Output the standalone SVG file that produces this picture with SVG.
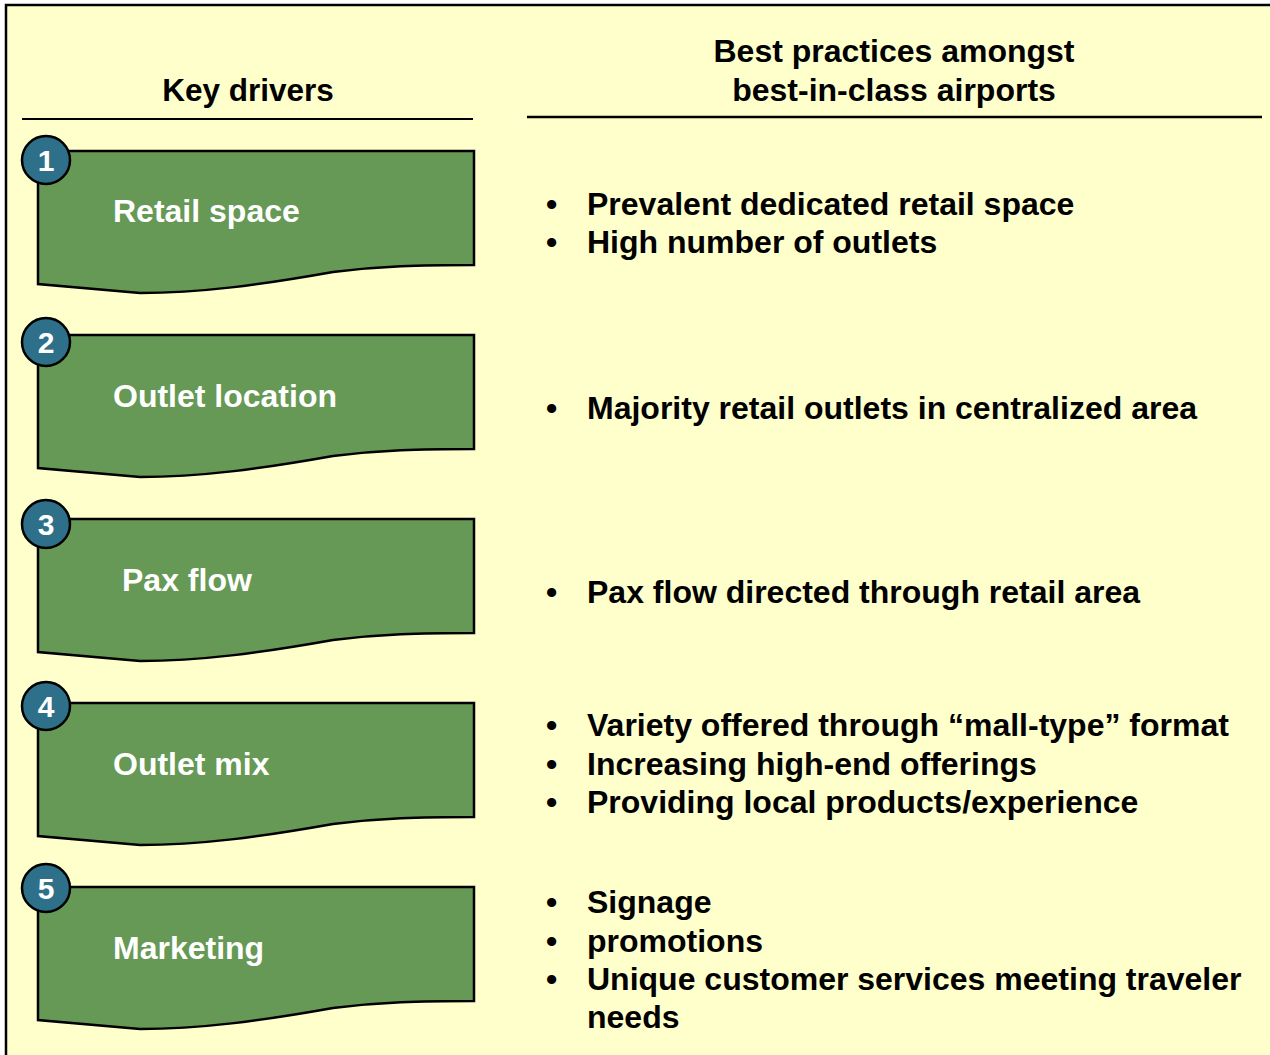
<svg xmlns="http://www.w3.org/2000/svg" width="1270" height="1055" viewBox="0 0 1270 1055">
  <defs>
    <style>
      .frame { fill: #FFFFCC; stroke: #000; stroke-width: 2.5; }
      .rule { stroke: #000; fill: none; }
      .card { fill: #669955; stroke: #000; stroke-width: 2.5; stroke-linejoin: miter; }
      .badge { fill: #2E7089; stroke: #000; stroke-width: 2.5; }
      .num { font-family: "Liberation Sans", Arial, sans-serif; font-weight: bold; font-size: 30px; fill: #fff; text-anchor: middle; }
      .label { font-family: "Liberation Sans", Arial, sans-serif; font-weight: bold; font-size: 32px; fill: #fff; }
      .head { font-family: "Liberation Sans", Arial, sans-serif; font-weight: bold; font-size: 32px; fill: #000; text-anchor: middle; }
      .item { font-family: "Liberation Sans", Arial, sans-serif; font-weight: bold; font-size: 32px; fill: #000; }
    </style>
    <!-- wavy "document" card shape, origin at its top-left corner -->
    <path id="card-shape" d="M0,0 L436,0 L436,114 C382,114 342,115 295,121 C222,134 162,142 102,142 L0,133 Z"/>
  </defs>

  <rect width="1270" height="1055" fill="#fff"/>
  <rect class="frame" x="6" y="5" width="1280" height="1070"/>

  <!-- column headings -->
  <g id="heading-left">
    <text class="head" x="248" y="101" style="font-size:31.5px">Key drivers</text>
    <line class="rule" x1="22" y1="119" x2="473" y2="119" stroke-width="2"/>
  </g>
  <g id="heading-right">
    <text class="head" x="894" y="62">Best practices amongst</text>
    <text class="head" x="894" y="101">best-in-class airports</text>
    <line class="rule" x1="527" y1="117" x2="1262" y2="117" stroke-width="2.5"/>
  </g>

  <g id="connectors"/>

  <!-- driver cards -->
  <g id="driver-1">
    <use href="#card-shape" class="card" x="38" y="151"/>
    <circle class="badge" cx="46" cy="160" r="24"/>
    <text class="num" x="46" y="171">1</text>
    <text class="label" x="113" y="222">Retail space</text>
  </g>
  <g id="driver-2">
    <use href="#card-shape" class="card" x="38" y="335"/>
    <circle class="badge" cx="46" cy="342" r="24"/>
    <text class="num" x="46" y="353">2</text>
    <text class="label" x="113" y="407">Outlet location</text>
  </g>
  <g id="driver-3">
    <use href="#card-shape" class="card" x="38" y="519"/>
    <circle class="badge" cx="46" cy="524" r="24"/>
    <text class="num" x="46" y="535">3</text>
    <text class="label" x="122" y="591">Pax flow</text>
  </g>
  <g id="driver-4">
    <use href="#card-shape" class="card" x="38" y="703"/>
    <circle class="badge" cx="46" cy="706" r="24"/>
    <text class="num" x="46" y="717">4</text>
    <text class="label" x="113" y="775">Outlet mix</text>
  </g>
  <g id="driver-5">
    <use href="#card-shape" class="card" x="38" y="887"/>
    <circle class="badge" cx="46" cy="888" r="24"/>
    <text class="num" x="46" y="899">5</text>
    <text class="label" x="113" y="959">Marketing</text>
  </g>

  <!-- best practice bullet lists -->
  <g id="practices-1">
    <text class="item" x="546" y="215">•</text><text class="item" x="587" y="215">Prevalent dedicated retail space</text>
    <text class="item" x="546" y="253">•</text><text class="item" x="587" y="253">High number of outlets</text>
  </g>
  <g id="practices-2">
    <text class="item" x="546" y="419">•</text><text class="item" x="587" y="419">Majority retail outlets in centralized area</text>
  </g>
  <g id="practices-3">
    <text class="item" x="546" y="603">•</text><text class="item" x="587" y="603">Pax flow directed through retail area</text>
  </g>
  <g id="practices-4">
    <text class="item" x="546" y="736">•</text><text class="item" x="587" y="736">Variety offered through “mall-type” format</text>
    <text class="item" x="546" y="775">•</text><text class="item" x="587" y="775">Increasing high-end offerings</text>
    <text class="item" x="546" y="813">•</text><text class="item" x="587" y="813">Providing local products/experience</text>
  </g>
  <g id="practices-5">
    <text class="item" x="546" y="913">•</text><text class="item" x="587" y="913">Signage</text>
    <text class="item" x="546" y="952">•</text><text class="item" x="587" y="952">promotions</text>
    <text class="item" x="546" y="990">•</text><text class="item" x="587" y="990">Unique customer services meeting traveler</text>
    <text class="item" x="587" y="1028">needs</text>
  </g>
</svg>
